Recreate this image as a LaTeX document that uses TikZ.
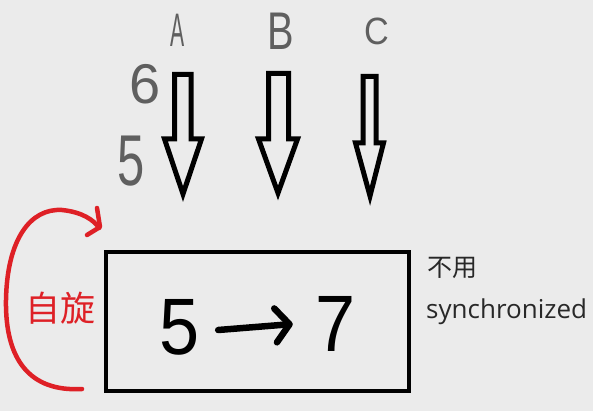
\documentclass[tikz,border=0pt]{standalone}
\usepackage{fontspec}
\setmainfont{Liberation Sans}
\newfontfamily\cjk{Noto Sans CJK SC}
\newfontfamily\uifont{Open Sans}
\usetikzlibrary{arrows.meta}
\definecolor{bg}{RGB}{235,235,235}
\definecolor{spinred}{RGB}{222,32,38}
\definecolor{pencil}{RGB}{95,95,95}
\definecolor{note}{RGB}{40,40,40}
\tikzset{
  blockarrow/.style={draw=black, line width=5pt, miter limit=10},
  sketch/.style={text=pencil, inner sep=0pt},
  bigdigit/.style={text=black, inner sep=0pt, font=\fontsize{80}{90}\selectfont},
  spin/.style={draw=spinred, line width=4.5pt, line cap=round, line join=round},
}
\begin{document}
\begin{tikzpicture}[x=1pt,y=-1pt]
\fill[bg] (0,0) rectangle (593,411);
\useasboundingbox (0,0) rectangle (593,411);

% letters and numbers
\node[sketch] (la) at (178,30) {\fontsize{47}{50}\selectfont\scalebox{0.45}[1]{A}};
\node[sketch] (lb) at (281,31) {\fontsize{53}{56}\selectfont\scalebox{0.75}[1]{B}};
\node[sketch] (lc) at (377,31) {\fontsize{38}{40}\selectfont\scalebox{0.9}[1]{C}};
\node[sketch] (six) at (145,84) {\fontsize{56}{58}\selectfont 6};
\node[sketch] (fivesmall) at (131,161) {\fontsize{72}{74}\selectfont\scalebox{0.68}[1]{5}};

% block arrows
\draw[blockarrow] (174.5,74.5) -- (191,74.5) -- (191,139) -- (201.5,139) -- (183,194) -- (164.5,139) -- (174.5,139) -- cycle;
\draw[blockarrow] (268.5,73.5) -- (288.5,73.5) -- (288.5,139) -- (297.5,139) -- (278,193) -- (258.5,139) -- (268.5,139) -- cycle;
\draw[blockarrow] (363,76.5) -- (376,76.5) -- (376,143) -- (383.5,143) -- (370,196) -- (355.5,143) -- (363,143) -- cycle;

% box
\node[draw=black, line width=4.5pt, minimum width=303pt, minimum height=139pt, inner sep=0pt] (box) at (257.5,321.5) {};

\node[bigdigit] (five) at (180,327) {\scalebox{0.9}[1]{5}};
\node[bigdigit] (seven) at (336,324) {\scalebox{0.9}[1]{7}};
\draw[line width=6.5pt, line cap=round, line join=round,
      -{Straight Barb[length=14pt, width=34pt, line width=6.5pt, round]}]
      ([xshift=18pt,yshift=-3pt]five.east) -- ([xshift=-23pt,yshift=0pt]seven.west);

% spin arc
\coordinate (sstart) at (82,389);
\coordinate (sleft) at (6,300);
\coordinate (stop) at (62,210);
\coordinate (send) at (99,228);
\draw[spin] (sstart) .. controls (30,392) and (5,360) .. (sleft)
            .. controls (7,240) and (30,208) .. (stop)
            .. controls (82,212) and (94,220) .. (send);
\coordinate (barb1) at (97,208);
\coordinate (barb2) at (87,235);
\draw[spin] (barb1) -- (100,227) -- (barb2);

\node[text=spinred, inner sep=0pt, font=\cjk\fontsize{35}{38}\selectfont] (zixuan) at (60,308) {自旋};

% note
\node[text=note, inner sep=0pt, anchor=west, font=\cjk\fontsize{25}{27}\selectfont] (buyong) at (427,268) {不用};
\node[text=note, inner sep=0pt, anchor=base west, font=\uifont\fontsize{26}{28}\selectfont] (sync) at (426,318) {synchronized};
\end{tikzpicture}
\end{document}
